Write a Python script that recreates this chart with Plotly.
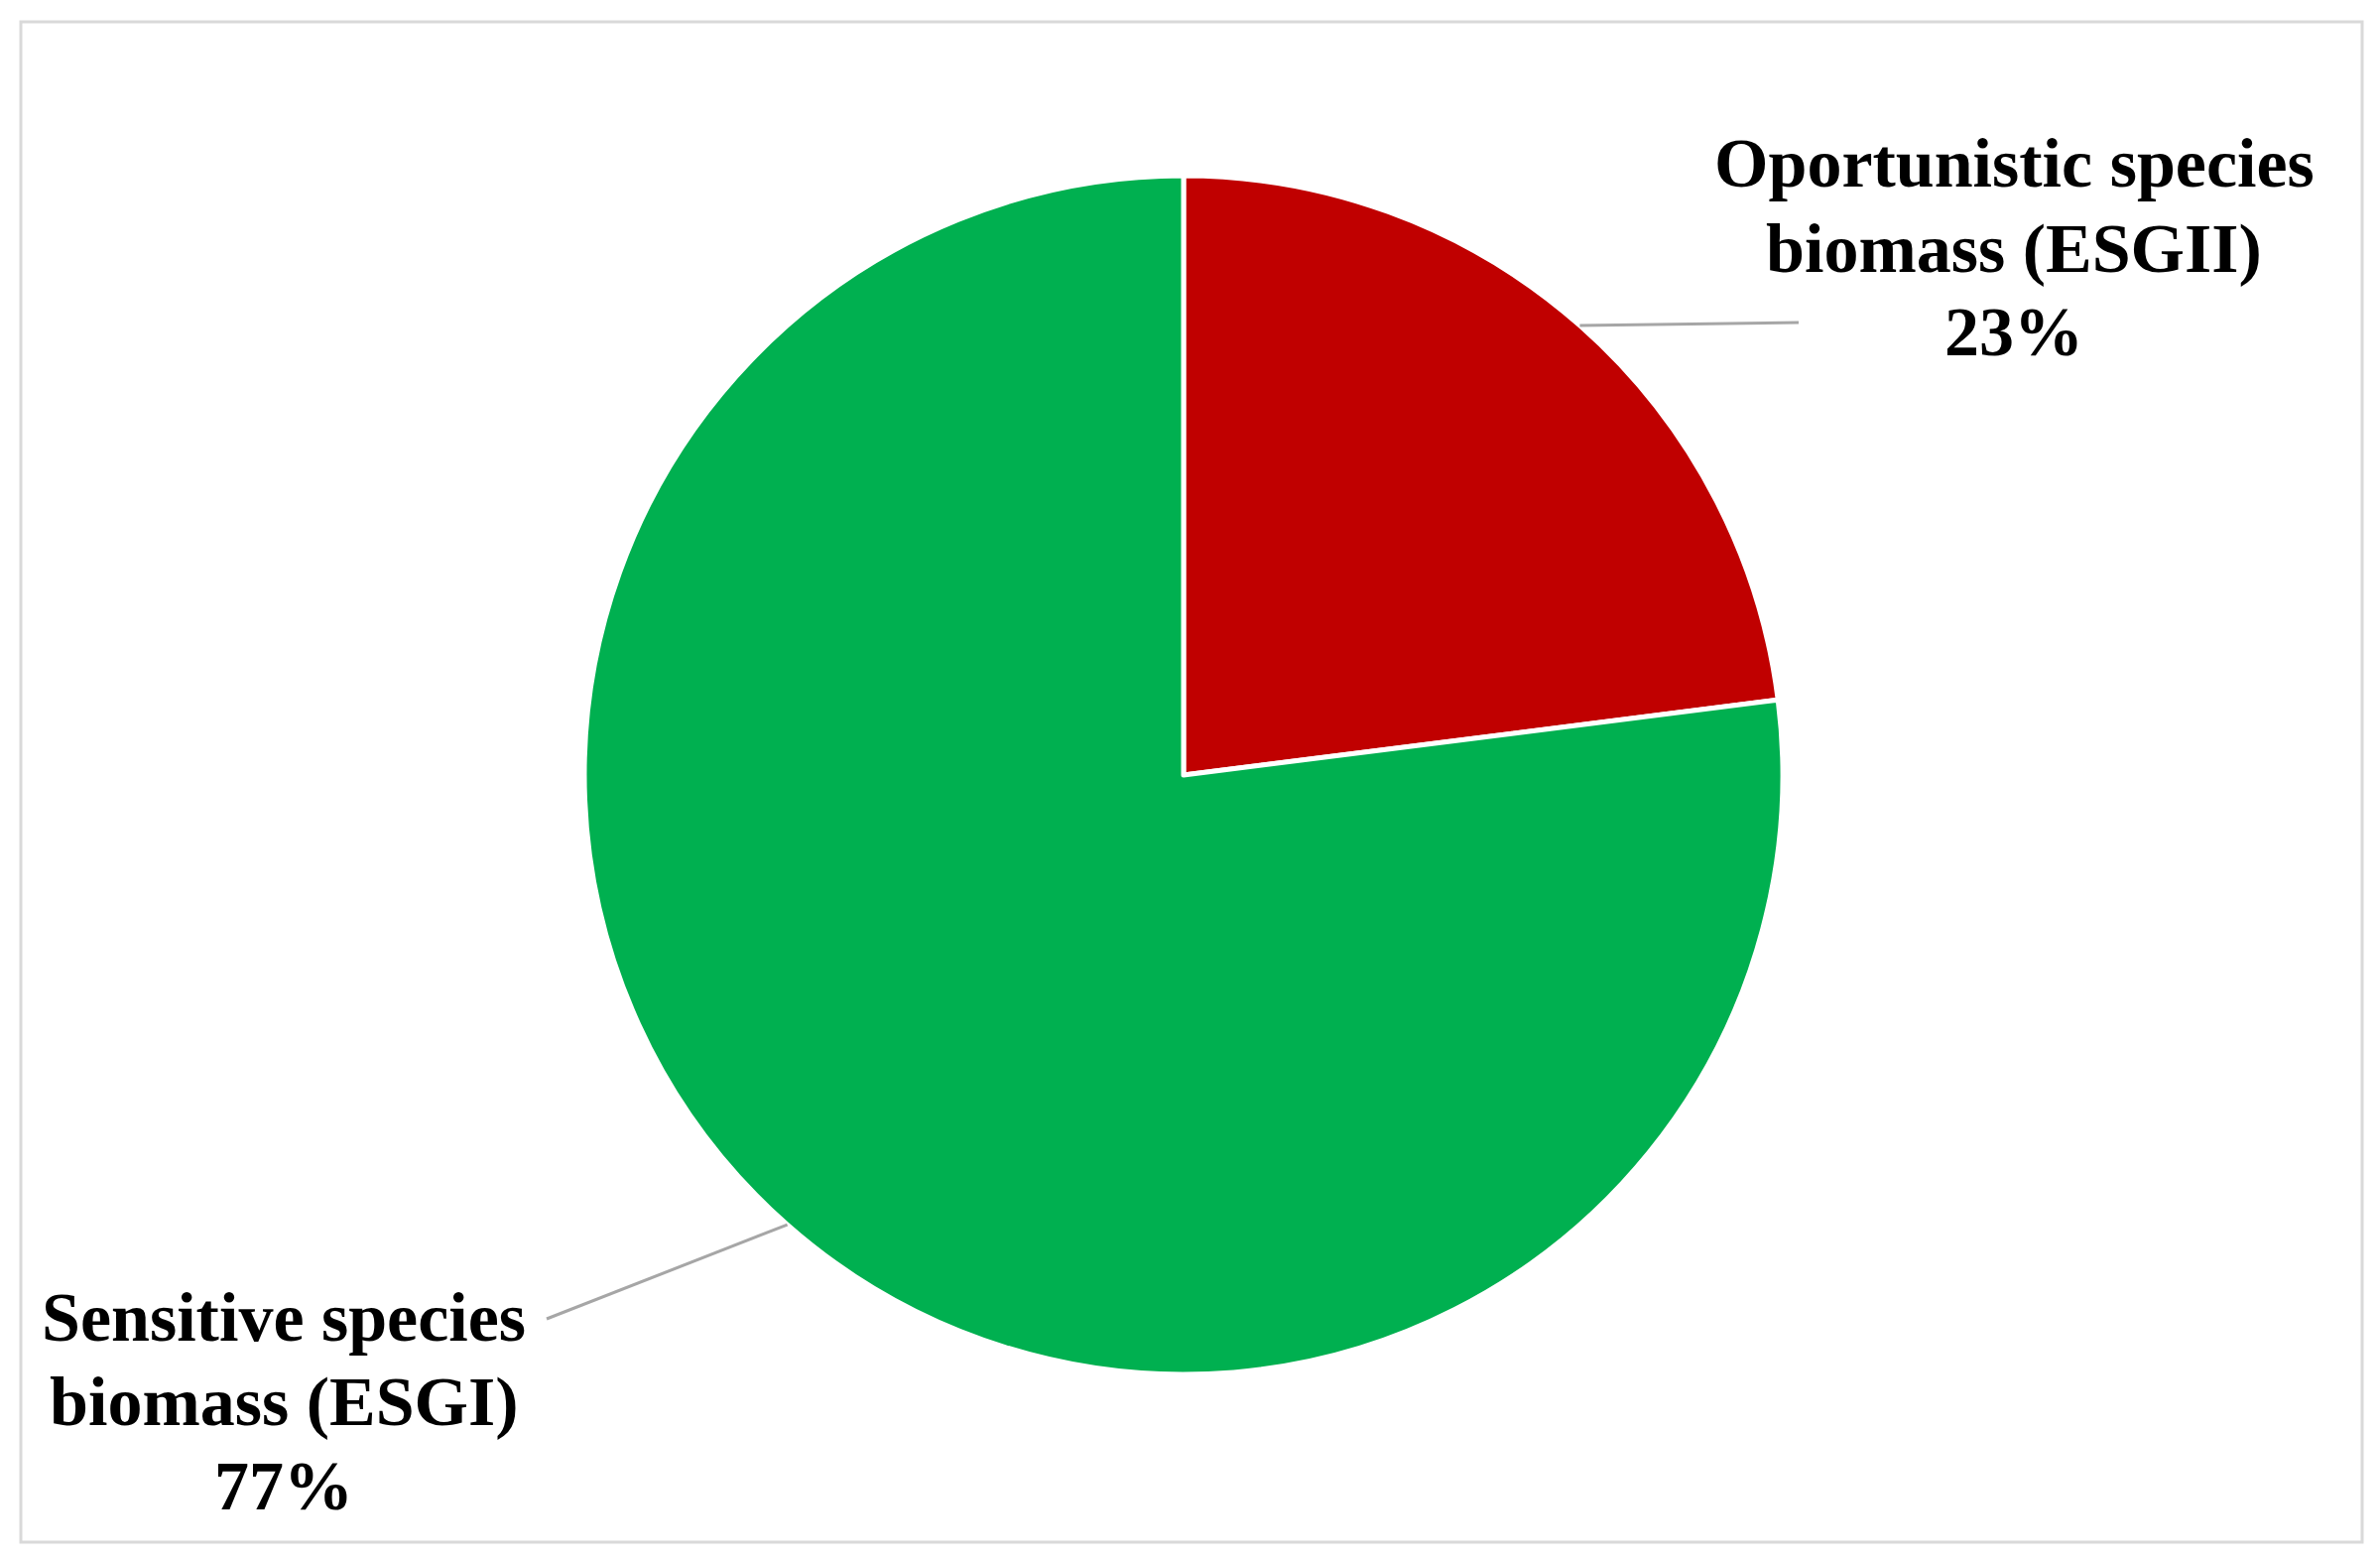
import math
import plotly.graph_objects as go

# --- Data ---
labels = ["Oportunistic species biomass (ESGII)", "Sensitive species biomass (ESGI)"]
label_lines = [
    ["Oportunistic species", "biomass (ESGII)"],
    ["Sensitive species", "biomass (ESGI)"],
]
values = [23, 77]
colors = ["#C00000", "#00B050"]

# --- Layout helpers (pixel space of the page) ---
W, H = 2399, 1573
OFF = 8                             # page body margin
cx, cy, r = 1193 - OFF, 781 - OFF, 604   # pie centre / radius
label_centre = [(2030, 250), (286, 1412)]
leader_end = [(1813, 325), (551, 1329)]
line_gap = 85
FONT = "Liberation Serif, Times New Roman, serif"


def px(x, y):
    return x / W, 1 - y / H


def page(x, y):
    return px(x - OFF, y - OFF)


fig = go.Figure()

fig.add_trace(
    go.Pie(
        labels=labels,
        values=values,
        sort=False,
        direction="clockwise",
        rotation=0,
        marker=dict(colors=colors, line=dict(color="white", width=5)),
        textinfo="none",
        hoverinfo="label+percent",
        showlegend=False,
        domain=dict(
            x=[(cx - r) / W, (cx + r) / W],
            y=[1 - (cy + r) / H, 1 - (cy - r) / H],
        ),
    )
)

# --- Labels + leader lines, placed from the slice mid-angles ---
total = sum(values)
start = 0.0
for i, v in enumerate(values):
    mid = (start + v / 2) / total * 2 * math.pi
    start += v
    sx = cx + r * math.sin(mid)
    sy = cy - r * math.cos(mid)
    x0, y0 = px(sx, sy)
    x1, y1 = page(*leader_end[i])
    fig.add_shape(
        type="line",
        xref="paper", yref="paper",
        x0=x0, y0=y0, x1=x1, y1=y1,
        line=dict(color="#a6a6a6", width=3),
    )
    pct = f"{round(v / total * 100)}%"
    lines = label_lines[i] + [pct]
    lx, ly = label_centre[i]
    for k, txt in enumerate(lines):
        ax, ay = page(lx, ly + (k - 1) * line_gap)
        fig.add_annotation(
            x=ax, y=ay,
            xref="paper", yref="paper",
            text=f"<b>{txt}</b>",
            showarrow=False,
            xanchor="center",
            yanchor="middle",
            font=dict(family=FONT, size=70, color="black"),
        )

# --- Chart border ---
bx0, by0 = page(21, 1554)
bx1, by1 = page(2381, 22)
fig.add_shape(
    type="rect",
    xref="paper", yref="paper",
    x0=bx0, y0=by0, x1=bx1, y1=by1,
    line=dict(color="#d9d9d9", width=3),
    fillcolor="rgba(0,0,0,0)",
)

fig.update_layout(
    width=W,
    height=H,
    margin=dict(l=0, r=0, t=0, b=0),
    paper_bgcolor="white",
    plot_bgcolor="white",
)

fig.write_html("out.html")
